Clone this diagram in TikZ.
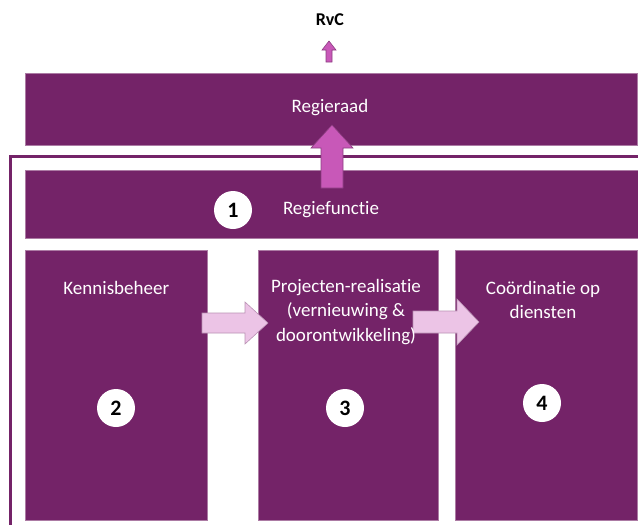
\documentclass[tikz,border=0pt]{standalone}
\usepackage{fontspec}
\setmainfont{Carlito}[Ligatures={TeX,NoCommon}]
\usetikzlibrary{positioning}
\tikzset{>=latex}
\definecolor{paars}{RGB}{116,35,104}
\definecolor{roze}{RGB}{200,88,184}
\definecolor{lichtroze}{RGB}{236,196,230}
\tikzset{
  blok/.style={fill=paars, draw=paars!60!white, line width=0.6pt, anchor=north west, inner sep=0pt},
  tekst/.style={text=white, font=\fontsize{19}{24.5}\selectfont, align=center, inner sep=0pt},
  nummer/.style={circle, fill=white, inner sep=0pt, minimum size=38pt, font=\fontsize{22}{22}\selectfont\bfseries},
  pijl/.style={fill=roze, draw=roze!70!black, line width=0.6pt},
  lpijl/.style={fill=lichtroze, draw=paars!50!white, line width=0.6pt}
}
\begin{document}
\begin{tikzpicture}[x=1pt, y=-1pt]
\useasboundingbox (0,0) rectangle (638,525);
% frame
\draw[paars, line width=3pt] (10,525) |- (638,156);
% boxes
\node[blok, minimum width=612pt, minimum height=72pt] (regieraad) at (25,73) {};
\node[blok, minimum width=613pt, minimum height=68pt] (regiefunctie) at (25,170) {};
\node[blok, minimum width=182pt, minimum height=270pt] (kennis) at (25,250) {};
\node[blok, minimum width=180pt, minimum height=270pt] (projecten) at (258,250) {};
\node[blok, minimum width=182pt, minimum height=270pt] (coord) at (455,250) {};
% arrows
\draw[pijl] (321,188) -- (321,148) -- (311,148) -- (332,125) -- (353,148) -- (343,148) -- (343,188) -- cycle;
\draw[pijl] (326,62) -- (326,50) -- (322,50) -- (329,41) -- (336,50) -- (332,50) -- (332,62) -- cycle;
\draw[lpijl] (202,313) -- (245,313) -- (245,302) -- (268,323) -- (245,344) -- (245,333) -- (202,333) -- cycle;
\draw[lpijl] (413,311) -- (457,311) -- (457,299) -- (479,322) -- (457,345) -- (457,333) -- (413,333) -- cycle;
% texts
\node[font=\fontsize{18}{18}\selectfont\bfseries] (rvc) at (330,20) {RvC};
\node[tekst] (t0) at (330,108) {Regieraad};
\node[tekst] (t1) at (331,210) {Regiefunctie};
\node[tekst, below=38pt of kennis.north, anchor=center] (t2) {Kennisbeheer};
\node[tekst, anchor=north] (t3) at (346,279) {Projecten-realisatie\\(vernieuwing \&\\doorontwikkeling)};
\node[tekst, anchor=north] (t4) at (543,281) {Coördinatie op\\diensten};
% numbers
\node[nummer] (n1) at (233,210) {1};
\node[nummer] (n2) at (116,408) {2};
\node[nummer] (n3) at (345,408) {3};
\node[nummer] (n4) at (542,403) {4};
\end{tikzpicture}
\end{document}
